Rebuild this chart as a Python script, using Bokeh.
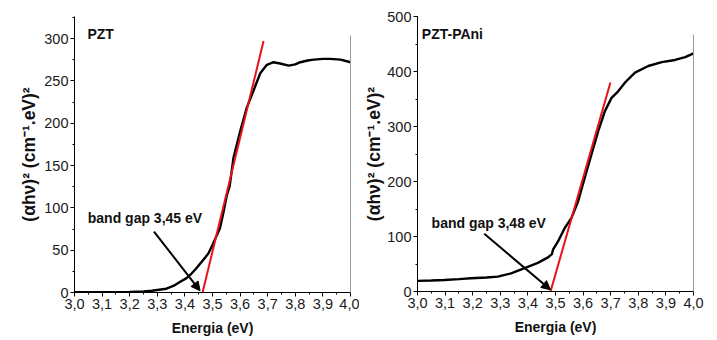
from bokeh.plotting import figure
from bokeh.models import (Range1d, SingleIntervalTicker, CustomJSTickFormatter, LinearAxis,
                          FixedTicker, Arrow, NormalHead, Label, ColumnDataSource)
from bokeh.layouts import row
from bokeh.embed import file_html
from bokeh.resources import INLINE

# ---------------- data ----------------
pzt_energy = [3.00, 3.05, 3.10, 3.15, 3.20, 3.25, 3.28, 3.30, 3.333, 3.36, 3.38, 3.406, 3.42,
              3.44, 3.455, 3.47, 3.485, 3.50, 3.527, 3.54, 3.552, 3.562, 3.576, 3.60, 3.624,
              3.648, 3.673, 3.697, 3.721, 3.745, 3.776, 3.80, 3.818, 3.845, 3.867, 3.90,
              3.927, 3.964, 4.00]
pzt_abs = [0.3, 0.3, 0.3, 0.4, 0.6, 1.2, 2.0, 3.0, 4.5, 8, 12, 17, 21, 28, 34, 40, 46, 56,
           76, 95, 115, 125, 159, 190, 218, 238, 259, 269, 272, 270.5, 268, 269.5, 272,
           274, 275, 276, 276, 275, 272]
pzt_fit_energy = [3.464, 3.685]
pzt_fit_abs = [0, 297]
pzt_arrow_energy = [3.288, 3.455]
pzt_arrow_abs = [72, 2]
pzt_gap_label = "band gap 3,45 eV"

pani_energy = [3.00, 3.05, 3.097, 3.15, 3.194, 3.25, 3.291, 3.339, 3.388, 3.436, 3.473, 3.487,
               3.491, 3.509, 3.533, 3.558, 3.582, 3.606, 3.63, 3.655, 3.679, 3.703, 3.727,
               3.752, 3.788, 3.836, 3.885, 3.933, 3.97, 4.00]
pani_abs = [19.4, 20, 21, 22.5, 24, 25.5, 27, 33, 42.5, 52, 62, 68, 76, 91, 115, 134, 164,
            207, 249, 292, 328, 352, 364, 380, 398, 410, 417, 421, 426, 433]
pani_fit_energy = [3.482, 3.699]
pani_fit_abs = [0, 380]
pani_arrow_energy = [3.242, 3.482]
pani_arrow_abs = [105, 3]
pani_gap_label = "band gap 3,48 eV"

x_label = "Energia (eV)"
y_label = "(αhν)² (cm⁻¹.eV)²"

FONT = "Liberation Sans"


def make_panel(energy, absorb, fit_e, fit_a, arr_e, arr_a, gap_label, gap_pos, name, name_pos,
               y_end, y_step, border_top, frame_h, border_left, border_right, right_bound,
               ylab_standoff):
    p = figure(frame_width=276, frame_height=frame_h,
               x_range=Range1d(3.0, 4.0), y_range=Range1d(0, y_end),
               output_backend="svg", toolbar_location=None,
               min_border_left=border_left, min_border_right=border_right,
               min_border_top=border_top, min_border_bottom=48,
               background_fill_color="white", border_fill_color="white")
    p.xgrid.visible = False
    p.ygrid.visible = False
    p.outline_line_color = None

    p.xaxis.ticker = SingleIntervalTicker(interval=0.1, num_minor_ticks=2)
    p.xaxis.formatter = CustomJSTickFormatter(code="return tick.toFixed(1).replace('.', ',');")
    p.yaxis.ticker = SingleIntervalTicker(interval=y_step, num_minor_ticks=2)
    p.xaxis.axis_label = x_label
    p.yaxis.axis_label = y_label

    for ax in (p.xaxis[0], p.yaxis[0]):
        ax.axis_line_color = "black"
        ax.axis_line_width = 1
        ax.major_tick_in = 0
        ax.major_tick_out = 4
        ax.minor_tick_in = 0
        ax.minor_tick_out = 2
        ax.major_tick_line_color = "black"
        ax.minor_tick_line_color = "black"
        ax.major_label_text_font = FONT
        ax.major_label_text_font_size = "14.5px"
        ax.major_label_text_color = "#1a1a1a"
        ax.axis_label_text_font = FONT
        ax.axis_label_text_font_style = "bold"
        ax.axis_label_text_color = "#111111"
    p.xaxis.axis_label_text_font_size = "14px"
    p.yaxis.axis_label_text_font_size = "17.5px"
    p.xaxis.major_label_standoff = 2
    p.xaxis.axis_label_standoff = 8
    p.yaxis.major_label_standoff = 2
    p.yaxis.axis_label_standoff = ylab_standoff

    right = LinearAxis(ticker=FixedTicker(ticks=[]), bounds=(0, right_bound),
                       axis_line_color="#9a9a9a", axis_line_width=1,
                       major_tick_line_color=None, minor_tick_line_color=None,
                       major_label_text_font_size="0px")
    p.add_layout(right, "right")

    p.line(energy, absorb, line_color="black", line_width=2.4)
    p.line(fit_e, fit_a, line_color="#e8121a", line_width=2)

    src = ColumnDataSource(dict(x0=[arr_e[0]], y0=[arr_a[0]], x1=[arr_e[1]], y1=[arr_a[1]]))
    p.add_layout(Arrow(source=src, x_start="x0", y_start="y0", x_end="x1", y_end="y1",
                       line_color="black", line_width=2,
                       end=NormalHead(size=9, fill_color="black", line_color="black")))

    p.add_layout(Label(x=gap_pos[0], y=gap_pos[1], text=gap_label, text_font=FONT,
                       text_font_size="14px", text_font_style="bold", text_color="#111111",
                       text_baseline="alphabetic"))
    p.add_layout(Label(x=name_pos[0], y=name_pos[1], text=name, text_font=FONT,
                       text_font_size="14px", text_font_style="bold", text_color="#111111",
                       text_baseline="alphabetic"))
    return p


p1 = make_panel(pzt_energy, pzt_abs, pzt_fit_energy, pzt_fit_abs, pzt_arrow_energy,
                pzt_arrow_abs, pzt_gap_label, (3.048, 87.6), "PZT", (3.047, 305),
                326, 50, 15, 276, 74, 9, 303, 2)
p2 = make_panel(pani_energy, pani_abs, pani_fit_energy, pani_fit_abs, pani_arrow_energy,
                pani_arrow_abs, pani_gap_label, (3.051, 125), "PZT-PAni", (3.0156, 468),
                500, 100, 16, 275, 58, 12, 468, 0)

layout = row(p1, p2)
open("out.html", "w").write(file_html(layout, INLINE))
